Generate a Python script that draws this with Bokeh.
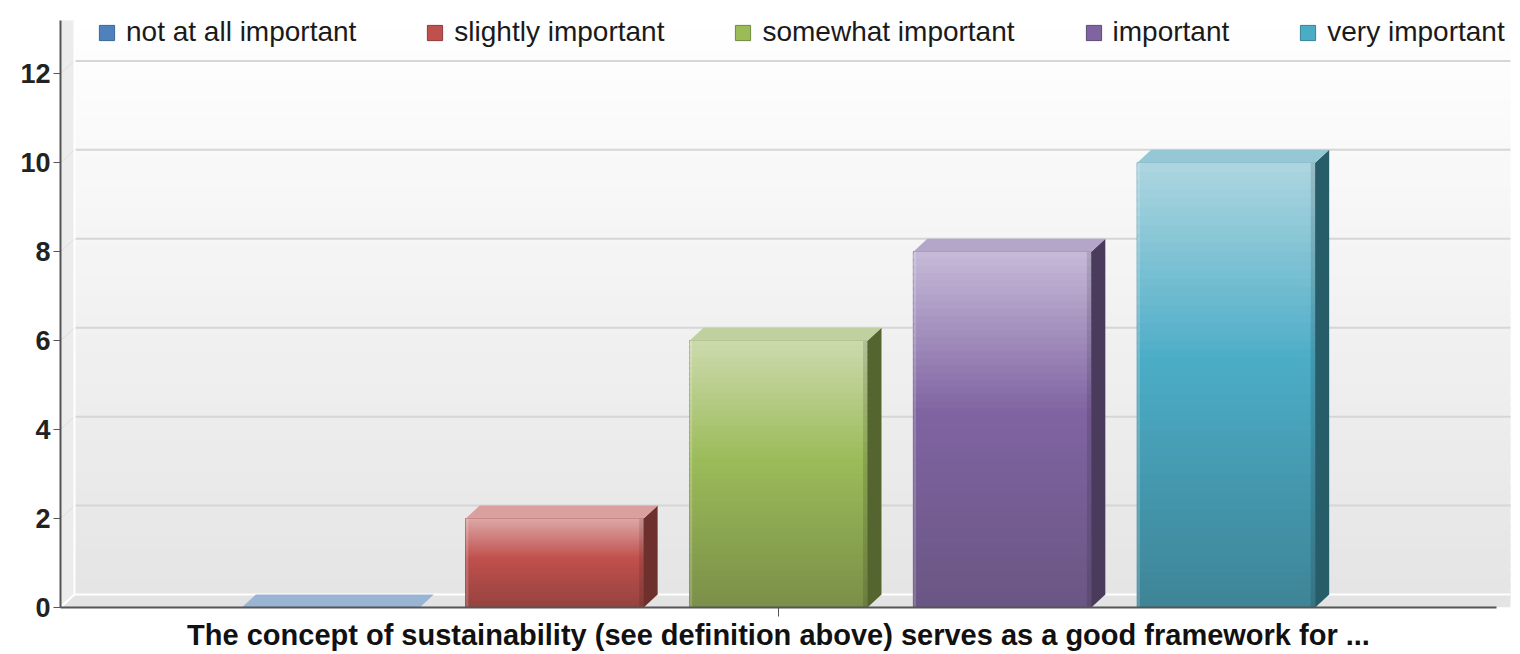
import numpy as np
from bokeh.plotting import figure
from bokeh.models import ColumnDataSource, FixedTicker, Range1d, Legend, LegendItem
from bokeh.embed import file_html
from bokeh.resources import INLINE

# ---- data -------------------------------------------------------------
question = "The concept of sustainability (see definition above) serves as a good framework for ..."
labels = ["not at all important", "slightly important", "somewhat important",
          "important", "very important"]
counts = [0, 2, 6, 8, 10]

# ---- palette (base / light top / dark bottom / side / top face) --------
base_col = ["#4f81bd", "#c0504d", "#9bbb59", "#8064a2", "#4bacc6"]
light_col = ["#a9c2e0", "#dca8a6", "#cddaae", "#c6bbd8", "#aed6e0"]
dark_col = ["#3f6b9e", "#96433f", "#7a8f48", "#6a5683", "#3e8496"]
side_col = ["#2c4d74", "#6e302d", "#55652f", "#4a3b5c", "#275d69"]
topf_col = ["#9ab5d4", "#d9a09d", "#c0d19f", "#b4a6c9", "#95c7d4"]
edge_col = ["#3a6796", "#8e3a38", "#6f8a3d", "#5d4a78", "#35829a"]

FONT = "Liberation Sans"
X0, WX1, X1 = -1.2076, 5.27, 5.3147   # left edge, back-wall right edge, frame right
Y0, WY1, Y1 = 0.0, 13.2, 13.65        # bottom, back-wall top, frame top
DX, DY = 0.0625, 0.292                # 3-D depth offset in data units
BAR_W = 0.795

p = figure(width=1520, height=654, output_backend="svg", toolbar_location=None,
           x_range=Range1d(X0, X1), y_range=Range1d(Y0, Y1),
           min_border_left=60, min_border_right=0, min_border_top=0,
           min_border_bottom=47)
p.outline_line_color = None
p.xgrid.visible = False
p.ygrid.visible = False
p.background_fill_color = "white"
p.border_fill_color = "white"


def hexrgb(h):
    h = h.lstrip("#")
    return np.array([int(h[i:i + 2], 16) for i in (0, 2, 4)], dtype=float)


def rgbhex(c):
    c = np.clip(np.round(c), 0, 255).astype(int)
    return "#%02x%02x%02x" % tuple(c)


# ---- back wall gradient -------------------------------------------------
n_bg = 60
edges = np.linspace(Y0, WY1, n_bg + 1)
step_bg = edges[1] - edges[0]
wall_top, wall_bot = hexrgb("#ffffff"), hexrgb("#e4e4e4")
bg_cols = [rgbhex(wall_bot + (wall_top - wall_bot) * (0.5 * (edges[i] + edges[i + 1]) / WY1))
           for i in range(n_bg)]
# strips overlap a little so no seams show between them
p.quad(left=X0, right=WX1, bottom=edges[:-1],
       top=np.minimum(edges[1:] + step_bg * 0.6, WY1),
       fill_color=bg_cols, line_color=None)

# floor
p.patch(x=[X0, WX1 - DX, WX1, X0 + DX], y=[0, 0, DY, DY], fill_color="#e3e3e3",
        line_color=None)
# left wall
p.patch(x=[X0, X0 + DX, X0 + DX, X0], y=[0, DY, WY1, WY1], fill_color="#ececec",
        line_color=None)

# grid lines on the back wall
grid_vals = np.arange(2, 13, 2)
p.segment(x0=X0 + DX, x1=WX1, y0=grid_vals + DY, y1=grid_vals + DY,
          line_color="#d6d6d6", line_width=2)
p.segment(x0=X0, x1=X0 + DX, y0=grid_vals, y1=grid_vals + DY,
          line_color="#dddddd", line_width=1)
# white edges of the back wall
p.segment(x0=[X0 + DX, X0 + DX], x1=[WX1, X0 + DX], y0=[DY, DY], y1=[DY, WY1],
          line_color="white", line_width=2)
p.segment(x0=[X0], x1=[X0 + DX], y0=[0], y1=[DY], line_color="white", line_width=2)

# ---- bars ---------------------------------------------------------------
xc = np.arange(len(counts), dtype=float)
lefts = xc - BAR_W / 2
rights = xc + BAR_W / 2

src = ColumnDataSource(dict(left=lefts, right=rights, top=counts,
                            bottom=[0] * len(counts), label=labels,
                            color=base_col, edge=edge_col))
base = p.quad(left="left", right="right", bottom="bottom", top="top",
              fill_color="color", line_color="edge", line_width=1, source=src)

n_strip = 50
for i, v in enumerate(counts):
    if v <= 0:
        continue
    lt, bs, dk = hexrgb(light_col[i]), hexrgb(base_col[i]), hexrgb(dark_col[i])
    e = np.linspace(0, v, n_strip + 1)
    step = e[1] - e[0]
    cols = []
    for k in range(n_strip):
        f = 1 - 0.5 * (e[k] + e[k + 1]) / v        # 0 at top, 1 at bottom
        if f < 0.45:
            c = lt + (bs - lt) * (f / 0.45)
        else:
            c = bs + (dk - bs) * ((f - 0.45) / 0.55)
        cols.append(rgbhex(c))
    p.quad(left=lefts[i], right=rights[i], bottom=e[:-1],
           top=np.minimum(e[1:] + step * 0.6, v),
           fill_color=cols, line_color=None)
    # bevel highlight on the left edge and shade on the right edge
    p.quad(left=lefts[i], right=lefts[i] + 0.012, bottom=0, top=v,
           fill_color="white", fill_alpha=0.18, line_color=None)
    p.quad(left=rights[i] - 0.02, right=rights[i], bottom=0, top=v,
           fill_color="black", fill_alpha=0.12, line_color=None)

# side faces
side_x = [[r, r + DX, r + DX, r] for r in rights]
side_y = [[0, DY, v + DY, v] for v in counts]
keep = [i for i, v in enumerate(counts) if v > 0]
p.patches(xs=[side_x[i] for i in keep], ys=[side_y[i] for i in keep],
          fill_color=[side_col[i] for i in keep], line_color=None)

# top faces
top_x = [[l, r, r + DX, l + DX] for l, r in zip(lefts, rights)]
top_y = [[v, v, v + DY, v + DY] for v in counts]
p.patches(xs=top_x, ys=top_y, fill_color=topf_col, line_color=None)

# ---- axes ---------------------------------------------------------------
yax = p.yaxis[0]
yax.ticker = FixedTicker(ticks=list(range(0, 13, 2)))
yax.bounds = (Y0, WY1)
yax.axis_line_color = "#555555"
yax.axis_line_width = 2
yax.major_tick_line_color = "#555555"
yax.major_tick_out = 7
yax.major_tick_in = 0
yax.minor_tick_line_color = None
yax.major_label_text_font = FONT
yax.major_label_text_font_style = "bold"
yax.major_label_text_font_size = "27px"
yax.major_label_text_color = "#222222"
yax.major_label_standoff = 3

xax = p.xaxis[0]
xax.ticker = FixedTicker(ticks=[2])
xax.major_label_overrides = {2: question}
xax.bounds = (X0, WX1 - DX)
xax.axis_line_color = "#555555"
xax.axis_line_width = 2
xax.major_tick_line_color = "#555555"
xax.major_tick_out = 9
xax.major_tick_in = 0
xax.minor_tick_line_color = None
xax.major_label_text_font = FONT
xax.major_label_text_font_style = "bold"
xax.major_label_text_font_size = "29px"
xax.major_label_text_color = "#111111"
xax.major_label_standoff = 2

# ---- legend -------------------------------------------------------------
legend = Legend(items=[LegendItem(label=lab, renderers=[base], index=i)
                       for i, lab in enumerate(labels)],
                orientation="horizontal", location=(37, 559),
                glyph_width=19, glyph_height=19, label_standoff=10, spacing=69,
                padding=1, margin=0, background_fill_alpha=0,
                border_line_color=None, label_text_font=FONT,
                label_text_font_size="28px", label_text_color="#1a1a1a",
                label_height=32)
p.add_layout(legend)

open("out.html", "w").write(file_html(p, INLINE))
